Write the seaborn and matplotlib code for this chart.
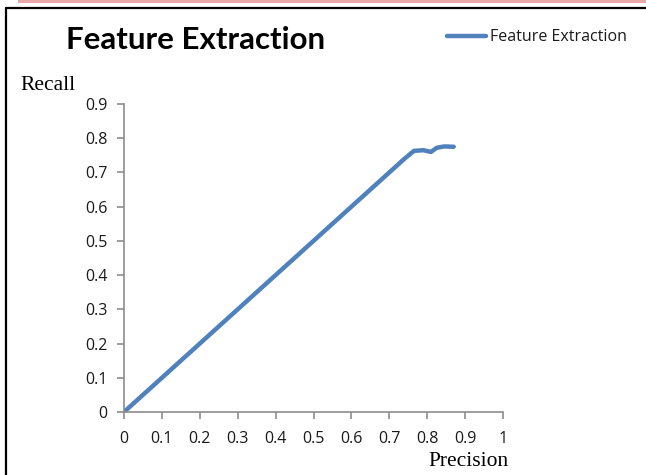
import matplotlib
matplotlib.use("Agg")
import matplotlib.pyplot as plt
from matplotlib.lines import Line2D
from matplotlib.patches import Rectangle
import seaborn as sns
import pandas as pd

# Precision / recall pairs for the feature extraction run
precision = [0.0, 0.25, 0.50, 0.74, 0.765, 0.79, 0.81, 0.825, 0.845, 0.87]
recall = [0.0, 0.25, 0.50, 0.74, 0.763, 0.765, 0.760, 0.772, 0.776, 0.775]
series_name = "Feature Extraction"
x_ticks = [0, 0.1, 0.2, 0.3, 0.4, 0.5, 0.6, 0.7, 0.8, 0.9, 1]
y_ticks = [0, 0.1, 0.2, 0.3, 0.4, 0.5, 0.6, 0.7, 0.8, 0.9]

df = pd.DataFrame({"Precision": precision, "Recall": recall})

sns.set_style("white")
plt.rcParams["font.family"] = ["Open Sans", "DejaVu Sans"]

W, H = 646, 475
fig = plt.figure(figsize=(W / 100, H / 100), dpi=100,
                 facecolor="white", edgecolor="white", linewidth=0)
ax = fig.add_axes([124 / W, 1 - 412 / H, 379 / W, 308 / H])

sns.lineplot(data=df, x="Precision", y="Recall", sort=False, ax=ax,
             color="#4F81BD", linewidth=3.2, solid_joinstyle="round",
             solid_capstyle="round", label=series_name, legend=False)

ax.set_xlim(0, 1)
ax.set_ylim(0, 0.9)
ax.set_xticks(x_ticks)
ax.set_yticks(y_ticks)
ax.set_xticklabels([f"{v:g}" for v in x_ticks])
ax.set_yticklabels([f"{v:g}" for v in y_ticks])
ax.tick_params(axis="both", direction="out", length=5, width=1.2,
               color="#8C8C8C", labelsize=11.5, labelcolor="#1A1A1A",
               bottom=True, left=True)
ax.tick_params(axis="x", pad=9)
ax.tick_params(axis="y", pad=7)
for side in ("top", "right"):
    ax.spines[side].set_visible(False)
for side in ("left", "bottom"):
    ax.spines[side].set_color("#8C8C8C")
    ax.spines[side].set_linewidth(1.2)
ax.set_xlabel("")
ax.set_ylabel("")

# Chart title and axis captions
fig.text(66 / W, 1 - 40 / H, "Feature Extraction", fontsize=22.5,
         fontweight="bold", family=["Lato", "DejaVu Sans"],
         ha="left", va="center", color="black")
fig.text(20 / W, 1 - 86 / H, "Recall", fontsize=15.5,
         family=["Liberation Serif"], ha="left", va="center", color="black")
fig.text(509 / W, 1 - 462 / H, "Precision", fontsize=15.5,
         family=["Liberation Serif"], ha="right", va="center", color="black")

# Legend entry
fig.add_artist(Line2D([447 / W, 486 / W], [1 - 36 / H, 1 - 36 / H],
                      transform=fig.transFigure, color="#4F81BD",
                      linewidth=3.2, solid_capstyle="round"))
fig.text(490 / W, 1 - 37 / H, series_name, fontsize=11.5,
         ha="left", va="center", color="#1A1A1A")

# Frame around the chart area
fig.add_artist(Rectangle((18 / W, 1 - 3 / H), 1 - 18 / W, 3 / H,
                         transform=fig.transFigure, color="#E8A8A8", lw=0))
fig.add_artist(Line2D([6 / W, 1], [1 - 8 / H, 1 - 8 / H],
                      transform=fig.transFigure, color="black", linewidth=1.6))
fig.add_artist(Line2D([6 / W, 6 / W], [0, 1 - 8 / H],
                      transform=fig.transFigure, color="black", linewidth=1.6))

fig.savefig("out.png", dpi=100, facecolor="white", edgecolor="white")
